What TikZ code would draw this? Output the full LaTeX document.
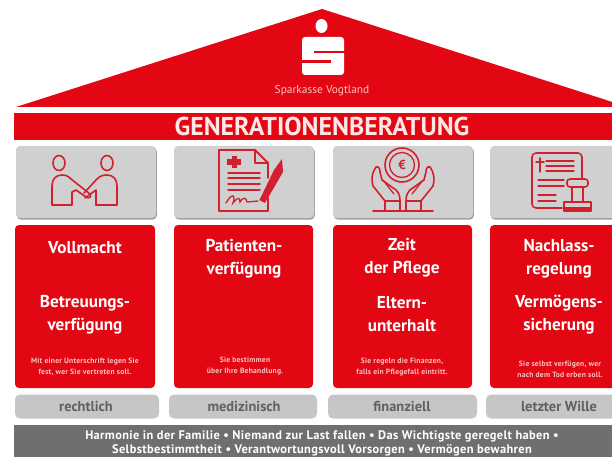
\documentclass[tikz,border=0pt]{standalone}
\usepackage{fontspec}
\setmainfont{PT Sans}
\usetikzlibrary{shadows}
\definecolor{srot}{HTML}{E30613}
\definecolor{iconrot}{HTML}{D2202F}
\definecolor{boxgrau}{HTML}{D0D0D0}
\definecolor{labelgrau}{HTML}{C6C6C6}
\definecolor{balkengrau}{HTML}{6F6F6F}
\definecolor{rosa}{HTML}{F9C4C4}
\tikzset{
  panel/.style={inner sep=0pt,outer sep=0pt,rounded corners=4pt},
  iconbox/.style={panel,fill=boxgrau,minimum height=72pt,drop shadow={shadow xshift=0.8pt,shadow yshift=-1.5pt,fill=black!70,opacity=.55}},
  redbox/.style={panel,fill=srot,minimum height=163pt},
  tagbox/.style={panel,fill=labelgrau,minimum height=24pt,rounded corners=5pt},
  headline/.style={text=white,font=\bfseries\fontsize{17.2}{19}\selectfont,inner sep=0pt,align=center},
  smalltext/.style={text=rosa,font=\bfseries\fontsize{7.6}{11}\selectfont\addfontfeature{LetterSpace=3},inner sep=0pt,align=center},
  taglabel/.style={text=black!62,font=\bfseries\fontsize{14.4}{16}\selectfont,inner sep=0pt},
  icon/.style={draw=iconrot,line width=1.6pt,line join=round,line cap=round},
  iconthin/.style={draw=iconrot,line width=1.3pt,line cap=round},
}
\begin{document}
\begin{tikzpicture}[x=1pt,y=-1pt]
\useasboundingbox (0,0) rectangle (612,457);
\clip (0,0) rectangle (612,457);
% roof
\fill[srot] (322,9) -- (628,107) -- (16,107) -- cycle;
% logo
\fill[white] (321.5,26) ellipse (6 and 7);
\fill[white,rounded corners=3pt] (302,37) rectangle (344,75);
\fill[srot] (314,51) rectangle (345,53.5);
\fill[srot] (301,60.5) rectangle (331,63);
\node[text=rosa,font=\fontsize{11.4}{13}\selectfont,inner sep=0pt] (brand) at (322,91) {Sparkasse Vogtland};
% band
\node[fill=srot,inner sep=0pt,minimum width=598pt,minimum height=27pt] (band) at (313,126.5) {};
\node[text=rosa!40!white,font=\bfseries\fontsize{25.8}{28}\selectfont,inner sep=0pt] (title) at (322,126) {GENERATIONENBERATUNG};
% icon boxes
\node[iconbox,minimum width=140pt] (i1) at (86,182) {};
\node[iconbox,minimum width=140pt] (i2) at (244,182) {};
\node[iconbox,minimum width=140pt] (i3) at (403,182) {};
\node[iconbox,minimum width=140pt] (i4) at (560,182) {};
% red boxes
\node[redbox,minimum width=140pt] (r1) at (85,306.5) {};
\node[redbox,minimum width=139pt] (r2) at (243.5,306.5) {};
\node[redbox,minimum width=139pt] (r3) at (402.5,306.5) {};
\node[redbox,minimum width=140pt] (r4) at (560,306.5) {};
% tags
\node[tagbox,minimum width=144pt] (t1) at (87,406.5) {};
\node[tagbox,minimum width=148pt] (t2) at (243,406.5) {};
\node[tagbox,minimum width=149pt] (t3) at (402.5,406.5) {};
\node[tagbox,minimum width=150pt] (t4) at (561,406.5) {};
\node[taglabel] at (86,406) {rechtlich};
\node[taglabel] at (244,406) {medizinisch};
\node[taglabel] at (402,406) {finanziell};
\node[taglabel] at (559,406) {letzter Wille};
% headings
\node[headline] at (85,248) {Vollmacht};
\node[headline] at (85,314.5) {Betreuungs-\\[4pt]verfügung};
\node[headline] at (244,259) {Patienten-\\[4pt]verfügung};
\node[headline] at (402,257.5) {Zeit\\[4pt]der Pflege};
\node[headline] at (402,314.5) {Eltern-\\[4pt]unterhalt};
\node[headline] at (559,259) {Nachlass-\\[4pt]regelung};
\node[headline] at (559,314.5) {Vermögens-\\[4pt]sicherung};
% small texts
\node[smalltext] at (85,366.5) {Mit einer Unterschrift legen Sie\\fest, wer Sie vertreten soll.};
\node[smalltext] at (245,366.5) {Sie bestimmen\\über Ihre Behandlung.};
\node[smalltext] at (402,367) {Sie regeln die Finanzen,\\falls ein Pflegefall eintritt.};
\node[smalltext] at (560,369) {Sie selbst verfügen, wer\\nach dem Tod erben soll.};
% bottom bar
\node[fill=balkengrau,inner sep=0pt,minimum width=598pt,minimum height=32pt] (bar) at (313,441) {};
\node[text=white,font=\bfseries\fontsize{12.4}{14}\selectfont\addfontfeature{LetterSpace=3},inner sep=0pt,align=center] (claim) at (322,443.5)
 {Harmonie in der Familie • Niemand zur Last fallen • Das Wichtigste geregelt haben •\\Selbstbestimmtheit • Verantwortungsvoll Vorsorgen • Vermögen bewahren};
% icon 1: handshake
\draw[icon] (59,163) ellipse (6 and 7.5);
\draw[icon] (107,163) ellipse (6 and 7.5);
\draw[icon] (72,205) -- (52,205) -- (52,186) .. controls (52,179) and (56,175) .. (62,175) .. controls (66,175) and (68,176) .. (71,179) -- (90,194) .. controls (92,197) and (89,199) .. (86,197) -- (76,190) -- (72,192) -- cycle;
\draw[icon] (96,205) -- (117,205) -- (117,186) .. controls (117,179) and (113,175) .. (107,175) .. controls (103,175) and (100,176) .. (97,179) -- (84,193);
\draw[icon] (96,205) -- (96,190) -- (85,198);
% icon 2: document and pen
\draw[icon,line width=1.8pt] (255,150) -- (219,150) -- (219,211) -- (268,211) -- (268,198);
\draw[icon,line width=1.8pt] (268,178) -- (268,163) -- (255,150) -- (255,163) -- (268,163);
\fill[iconrot] (231.5,156) rectangle (236.5,168);
\fill[iconrot] (227,159.5) rectangle (241,164.5);
\foreach \yy in {173,178,184,190}{\draw[iconthin,line width=1.5pt] (228,\yy) -- (260,\yy);}
\draw[iconthin] (226,203) .. controls (232,193) and (236,194) .. (233,203) .. controls (238,197) and (240,197) .. (240,202) .. controls (244,196) and (246,198) .. (247,202) -- (258,201);
\fill[iconrot] (282,159) -- (283,172) -- (265,203) -- (259,200) -- (260,199) -- (274,170) -- cycle;
% icon 3: coin and hands
\draw[icon] (402,165) circle (17);
\draw[iconthin] (402,165) circle (12.5);
\node[text=iconrot,font=\bfseries\fontsize{13}{13}\selectfont,inner sep=0pt] (euro) at (402,165) {€};
\draw[icon] (373,211) -- (433,211);
\draw[icon] (385,211) -- (385,201) -- (373,186) .. controls (371,180) and (372,172) .. (376,167) .. controls (379,166) and (380,169) .. (380,172) -- (382,180) -- (396,190) .. controls (400,194) and (400,198) .. (400,203) -- (400,211);
\draw[icon] (385,201) -- (400,201);
\draw[iconthin] (383,180) -- (390,189) -- (394,194);
\draw[icon] (421,211) -- (421,201) -- (433,186) .. controls (435,180) and (434,172) .. (430,167) .. controls (427,166) and (426,169) .. (426,172) -- (424,180) -- (410,190) .. controls (406,194) and (406,198) .. (406,203) -- (406,211);
\draw[icon] (421,201) -- (406,201);
\draw[iconthin] (423,180) -- (416,189) -- (412,194);
% icon 4: deed and stamp
\draw[icon,rounded corners=4pt] (562,208) -- (532,208) -- (532,153) -- (582,153) -- (582,178);
\draw[iconthin,line width=1.5pt] (540,158) -- (540,172) (536,162) -- (544,162);
\foreach \yy in {161,166,171}{\draw[iconthin] (546,\yy) -- (574,\yy);}
\draw[iconthin] (538,180) -- (564,180);
\draw[iconthin] (538,186) -- (564,186);
\draw[iconthin] (538,195) -- (556,195);
\draw[iconthin] (538,201) -- (556,201);
\draw[icon,rounded corners=3pt] (567,179) rectangle (588,187);
\draw[icon] (572,187) -- (572,202) (583,187) -- (583,202);
\draw[icon] (564,211) -- (564,202) -- (591,202) -- (591,211) -- cycle;
\fill[iconrot] (564,207) rectangle (591,212);
\end{tikzpicture}
\end{document}
